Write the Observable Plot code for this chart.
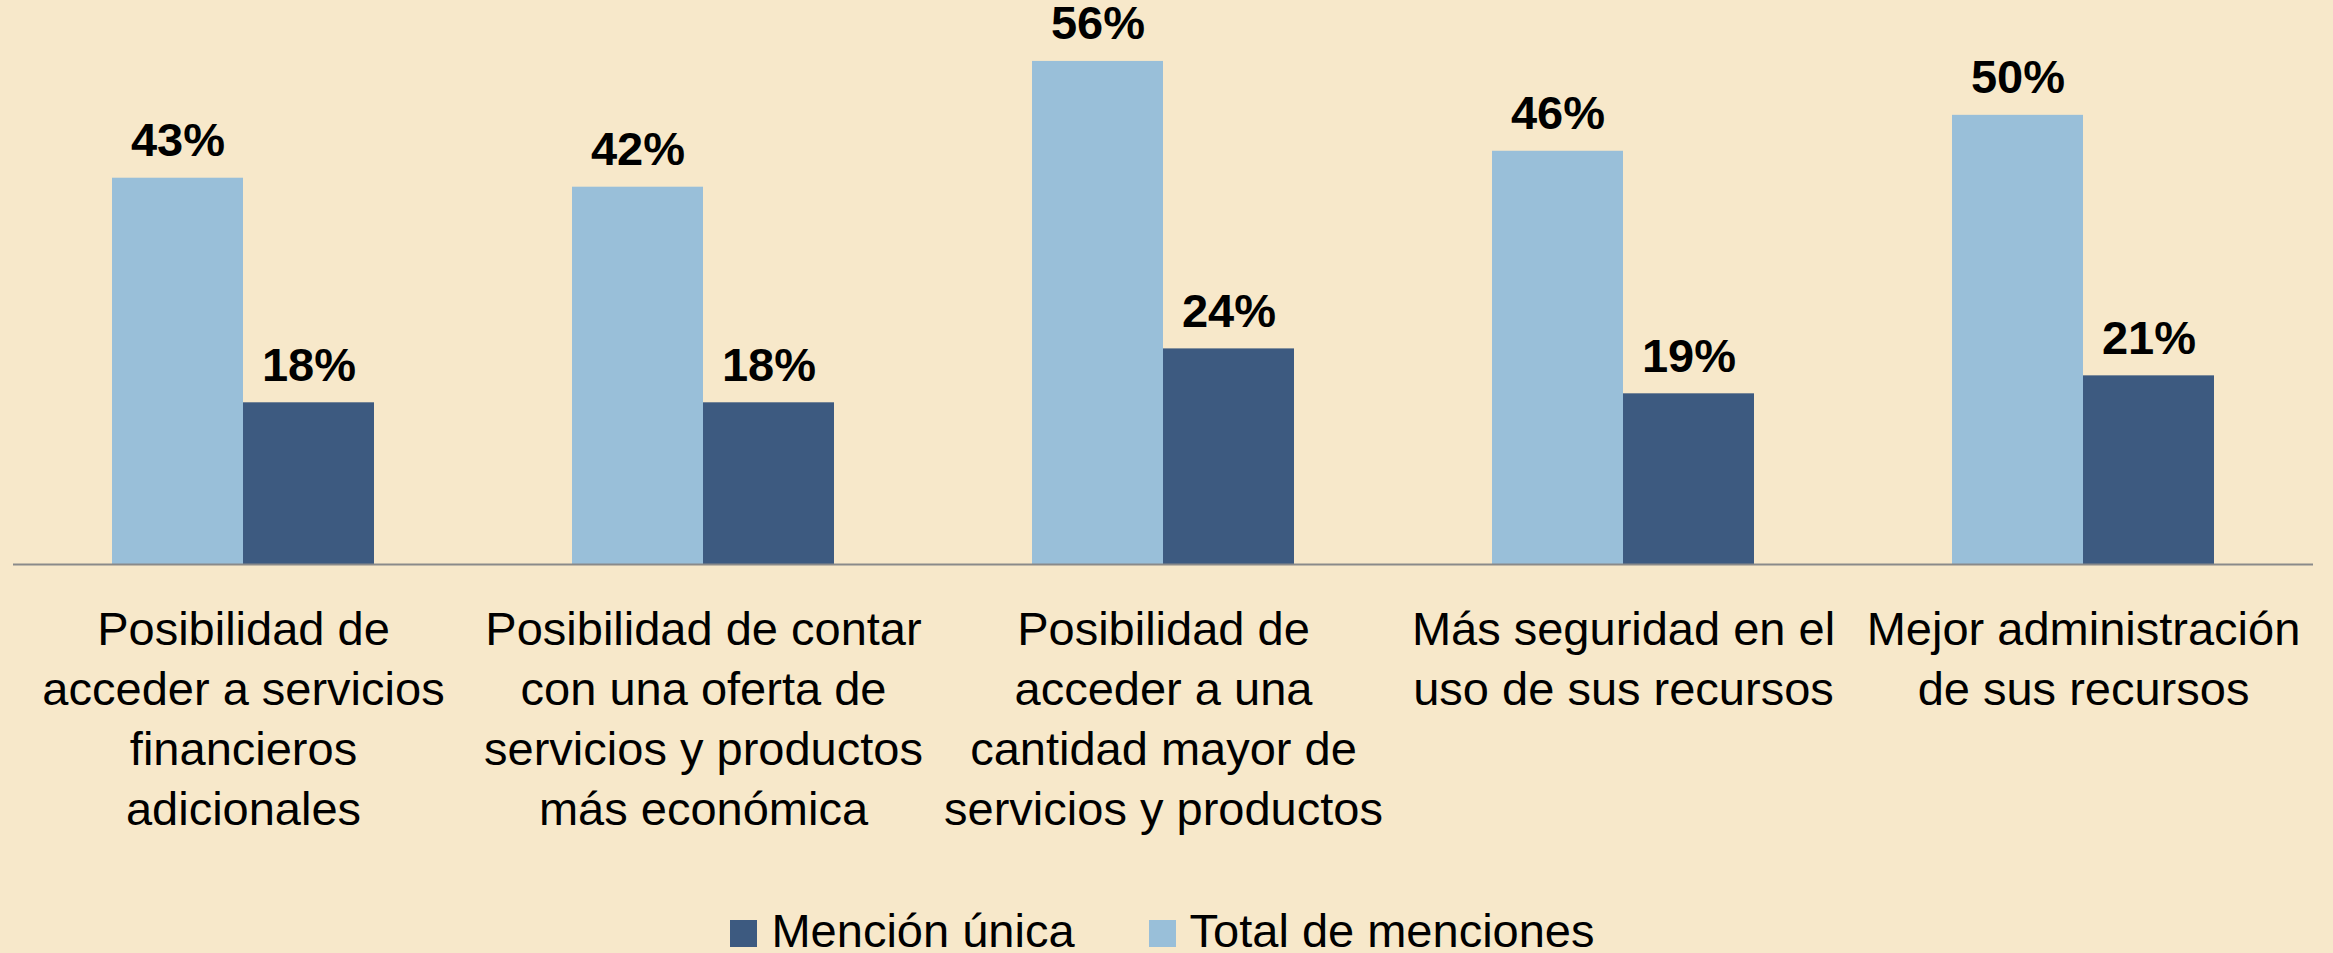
<!DOCTYPE html>
<html>
<head>
<meta charset="utf-8">
<script src="https://cdn.jsdelivr.net/npm/d3@7"></script>
<script src="https://cdn.jsdelivr.net/npm/@observablehq/plot@0.6"></script>
<style>
  html, body { margin: 0; padding: 0; background: #F7E8CA; overflow: hidden; }
  #chart svg { display: block; overflow: visible; }
  #legend {
    height: 47px; font-family: "Liberation Sans", Arial, sans-serif; font-size: 47px;
    line-height: 47px; text-align: center; white-space: nowrap; color: #000; padding-right: 8px;
  }
  #legend .item { display: inline-block; margin: 0 37px; }
  #legend .sw { display: inline-block; width: 27px; height: 27px; margin-right: 14px; vertical-align: baseline; }
</style>
</head>
<body>
<div id="chart"></div>
<div id="legend"></div>
<script>
const categories = [
  "Posibilidad de\nacceder a servicios\nfinancieros\nadicionales",
  "Posibilidad de contar\ncon una oferta de\nservicios y productos\nmás económica",
  "Posibilidad de\nacceder a una\ncantidad mayor de\nservicios y productos",
  "Más seguridad en el\nuso de sus recursos",
  "Mejor administración\nde sus recursos"
];
const seriesNames = ["Total de menciones", "Mención única"];
const totalMenciones = [43, 42, 56, 46, 50];
const mencionUnica = [18, 18, 24, 19, 21];
const seriesColors = ["#99BFD9", "#3D5A80"];
const legendOrder = ["Mención única", "Total de menciones"];

const rows = [];
categories.forEach((c, i) => {
  rows.push({cat: c, series: seriesNames[0], value: totalMenciones[i]});
  rows.push({cat: c, series: seriesNames[1], value: mencionUnica[i]});
});

const chart = Plot.plot({
  width: 2333,
  height: 907,
  marginTop: 25,
  marginBottom: 343,
  marginLeft: 12,
  marginRight: 19,
  style: {background: "transparent", fontFamily: "'Liberation Sans', Arial, sans-serif", color: "#000", overflow: "visible"},
  fx: {domain: categories, padding: 0, label: null},
  x: {domain: seriesNames, paddingInner: 0, paddingOuter: 0.75, axis: null},
  y: {domain: [0, 60], axis: null},
  color: {domain: seriesNames, range: seriesColors},
  marks: [
    Plot.barY(rows, {fx: "cat", x: "series", y: "value", fill: "series"}),
    Plot.text(rows, {fx: "cat", x: "series", y: "value", text: d => d.value + "%",
      lineAnchor: "bottom", dy: -22, fontSize: 47, fontWeight: "bold", fill: "#000"}),
    Plot.ruleY([0], {stroke: "#8a8a8a", strokeWidth: 2}),
    Plot.axisFx({anchor: "bottom", tickSize: 0, tickPadding: 38, fontSize: 47, lineHeight: 1.277, label: null})
  ]
});
document.getElementById("chart").appendChild(chart);

const legend = document.getElementById("legend");
legendOrder.forEach(name => {
  const item = document.createElement("span");
  item.className = "item";
  const sw = document.createElement("span");
  sw.className = "sw";
  sw.style.background = seriesColors[seriesNames.indexOf(name)];
  item.appendChild(sw);
  item.appendChild(document.createTextNode(name));
  legend.appendChild(item);
});
</script>
</body>
</html>
